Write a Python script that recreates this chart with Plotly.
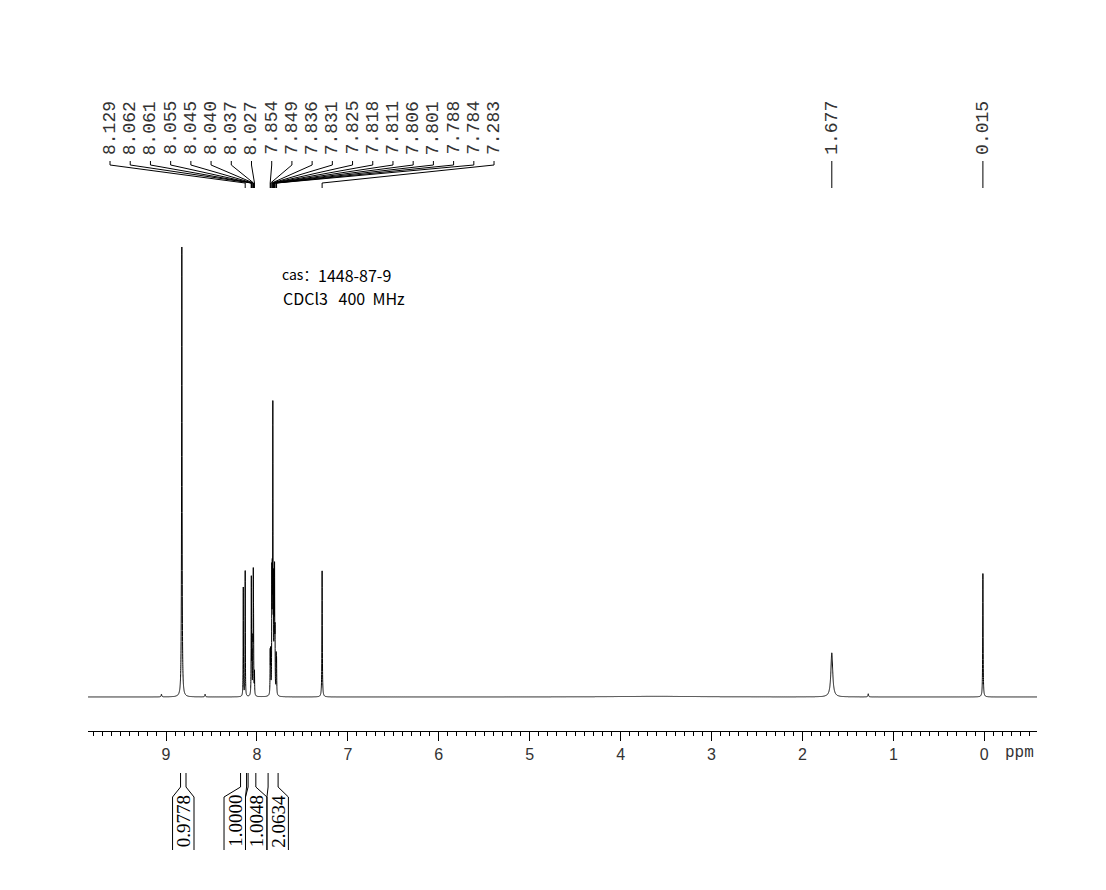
import numpy as np
import plotly.graph_objects as go

# ---------------- data ----------------
# resonance lines: chemical shift (ppm), relative height, half width at half height (ppm)
line_ppm = [9.050, 8.826, 8.570, 8.150, 8.129,
            8.062, 8.061, 8.055, 8.045, 8.040, 8.037, 8.027,
            7.854, 7.849, 7.836, 7.831, 7.825, 7.818, 7.811, 7.806, 7.801, 7.788, 7.784,
            7.283, 3.600, 1.677, 1.276, 0.015]
line_height = [0.006, 1.000, 0.006, 0.242, 0.282,
               0.150, 0.130, 0.080, 0.100, 0.240, 0.120, 0.050,
               0.090, 0.090, 0.250, 0.220, 0.620, 0.220, 0.200, 0.250, 0.120, 0.080, 0.070,
               0.282, 0.0015, 0.098, 0.007, 0.276]
line_hwhm = [0.004, 0.003, 0.004, 0.0018, 0.0018,
             0.0018, 0.0018, 0.0018, 0.0018, 0.0018, 0.0018, 0.0018,
             0.0018, 0.0018, 0.0018, 0.0018, 0.0018, 0.0018, 0.0018, 0.0018, 0.0018, 0.0018, 0.0018,
             0.0025, 0.5, 0.012, 0.004, 0.0025]

# peak-picking labels (ppm)
pick_ppm = [8.129, 8.062, 8.061, 8.055, 8.045, 8.040, 8.037, 8.027,
            7.854, 7.849, 7.836, 7.831, 7.825, 7.818, 7.811, 7.806, 7.801, 7.788, 7.784,
            7.283, 1.677, 0.015]

# integrals: region limits (ppm) and values
int_from = [8.840, 8.180, 8.097, 7.877]
int_to = [8.780, 8.114, 8.012, 7.767]
int_value = [0.9778, 1.0000, 1.0048, 2.0634]

# axis ticks
tick_vals = [0, 1, 2, 3, 4, 5, 6, 7, 8, 9]
tick_text = ["0", "1", "2", "3", "4", "5", "6", "7", "8", "9"]

sample_cas = "1448-87-9"
sample_info = "CDCl3   400  MHz"

# ---------------- layout constants ----------------
W, H = 1106, 890
SHIFT = 8                                       # page offset of the figure (px)
PL, PR, PT, PB = 88, 1037, 100, 731             # plot area in screen pixels
X_LEFT, X_RIGHT = 9.858, -0.580                 # ppm range (reversed axis)
Y_MIN, Y_MAX = -0.0756, 1.3267
FAN_CENTER_PPM = 7.504
FAN_STEP_PPM = 0.2223
INT_STEP_PPM = 0.236


def ppm2paper(p):
    return (X_LEFT - p) / (X_LEFT - X_RIGHT)


def px2paper_x(px):
    return (px - PL) / (PR - PL)


def py2paper(py):
    return (PB - py) / (PB - PT)


# ---------------- spectrum ----------------
ppm = np.arange(X_RIGHT, X_LEFT, 0.0004)
inten = np.zeros_like(ppm)
for p, h, w in zip(line_ppm, line_height, line_hwhm):
    inten += h / (1.0 + ((ppm - p) / w) ** 2)

fig = go.Figure()
fig.add_trace(go.Scatter(x=ppm, y=inten, mode="lines",
                         line=dict(color="#000000", width=1, simplify=False),
                         hoverinfo="skip", showlegend=False))

shapes = []
annotations = []


def spread(positions, step, centre_of=None):
    """merge labels (descending ppm) into groups until no spread groups overlap"""
    groups = [[i] for i in range(len(positions))]

    def centre(g):
        if centre_of is not None and len(g) > 1:
            return centre_of(g)
        return sum(positions[i] for i in g) / len(g)

    def extent(g):
        c = centre(g)
        half = (len(g) - 1) / 2 * step
        return c + half, c - half

    merged = True
    while merged:
        merged = False
        for j in range(len(groups) - 1):
            hi_a, lo_a = extent(groups[j])
            hi_b, lo_b = extent(groups[j + 1])
            if lo_a - hi_b < step:
                groups[j] = groups[j] + groups[j + 1]
                del groups[j + 1]
                merged = True
                break
    out = [0.0] * len(positions)
    for g in groups:
        hi, lo = extent(g)
        for k, i in enumerate(g):
            out[i] = hi - k * step
    return out


# ---------------- peak labels (fan) ----------------
label_pos = spread(pick_ppm, FAN_STEP_PPM,
                   centre_of=lambda g: FAN_CENTER_PPM if len(g) > 12 else
                   sum(pick_ppm[i] for i in g) / len(g))

for p, lp in zip(pick_ppm, label_pos):
    xl = ppm2paper(lp)
    xp = ppm2paper(p)
    path = (f"M {xl} {py2paper(161)} L {xl} {py2paper(165)} "
            f"L {xp} {py2paper(183)} L {xp} {py2paper(188)}")
    shapes.append(dict(type="path", xref="paper", yref="paper", path=path,
                       line=dict(color="#000000", width=1), layer="above"))
    annotations.append(dict(x=xl, y=py2paper(128), xref="paper", yref="paper",
                            text=f"{p:.3f}", showarrow=False, textangle=-90,
                            xanchor="center", yanchor="middle",
                            font=dict(family="Liberation Mono", size=18, color="#333333")))

# ---------------- integrals ----------------
centers = [(a + b) / 2 for a, b in zip(int_from, int_to)]
int_label = spread(centers, INT_STEP_PPM)

for a, b, c, v in zip(int_from, int_to, int_label, int_value):
    half = INT_STEP_PPM / 2
    for top, bot in ((a, c + half), (b, c - half)):
        xt = ppm2paper(top)
        xb = ppm2paper(bot)
        path = (f"M {xt} {py2paper(773)} L {xt} {py2paper(787)} "
                f"L {xb} {py2paper(797)} L {xb} {py2paper(850)}")
        shapes.append(dict(type="path", xref="paper", yref="paper", path=path,
                           line=dict(color="#000000", width=1), layer="above"))
    annotations.append(dict(x=ppm2paper(c), y=py2paper(821), xref="paper", yref="paper",
                            text=f"{v:.4f}", showarrow=False, textangle=-90,
                            xanchor="center", yanchor="middle",
                            font=dict(family="Liberation Serif", size=19, color="#000000")))

# ---------------- sample text ----------------
annotations.append(dict(x=px2paper_x(280), y=py2paper(274), xref="paper", yref="paper",
                        text="cas：", showarrow=False, xanchor="left", yanchor="middle",
                        font=dict(family="Noto Sans CJK SC", size=14, color="#000000")))
annotations.append(dict(x=px2paper_x(316), y=py2paper(275), xref="paper", yref="paper",
                        text=sample_cas, showarrow=False, xanchor="left", yanchor="middle",
                        font=dict(family="Noto Sans CJK SC", size=16, color="#000000")))
annotations.append(dict(x=px2paper_x(281), y=py2paper(298), xref="paper", yref="paper",
                        text=sample_info.replace(" ", "&nbsp;"), showarrow=False,
                        xanchor="left", yanchor="middle",
                        font=dict(family="Noto Sans CJK SC", size=16, color="#000000")))

# axis unit
annotations.append(dict(x=px2paper_x(1003), y=py2paper(753), xref="paper", yref="paper",
                        text="ppm", showarrow=False, xanchor="left", yanchor="middle",
                        font=dict(family="Liberation Mono", size=16, color="#333333")))

fig.update_layout(
    width=W, height=H,
    margin=dict(l=PL - SHIFT, r=W - (PR - SHIFT), t=PT - SHIFT, b=H - (PB - SHIFT), pad=0),
    paper_bgcolor="white", plot_bgcolor="white",
    showlegend=False,
    xaxis=dict(range=[X_LEFT, X_RIGHT], showgrid=False, zeroline=False,
               showline=True, linecolor="#000000", linewidth=1,
               ticks="outside", ticklen=9, tickwidth=1, tickcolor="#000000",
               tickvals=tick_vals, ticktext=tick_text,
               tickfont=dict(family="Liberation Sans", size=16, color="#333333"),
               minor=dict(dtick=0.1, tick0=0, ticks="outside", ticklen=4,
                          tickwidth=1, tickcolor="#000000", showgrid=False)),
    yaxis=dict(range=[Y_MIN, Y_MAX], visible=False, showgrid=False, zeroline=False),
    shapes=shapes,
    annotations=annotations,
)

fig.write_html("out.html")
